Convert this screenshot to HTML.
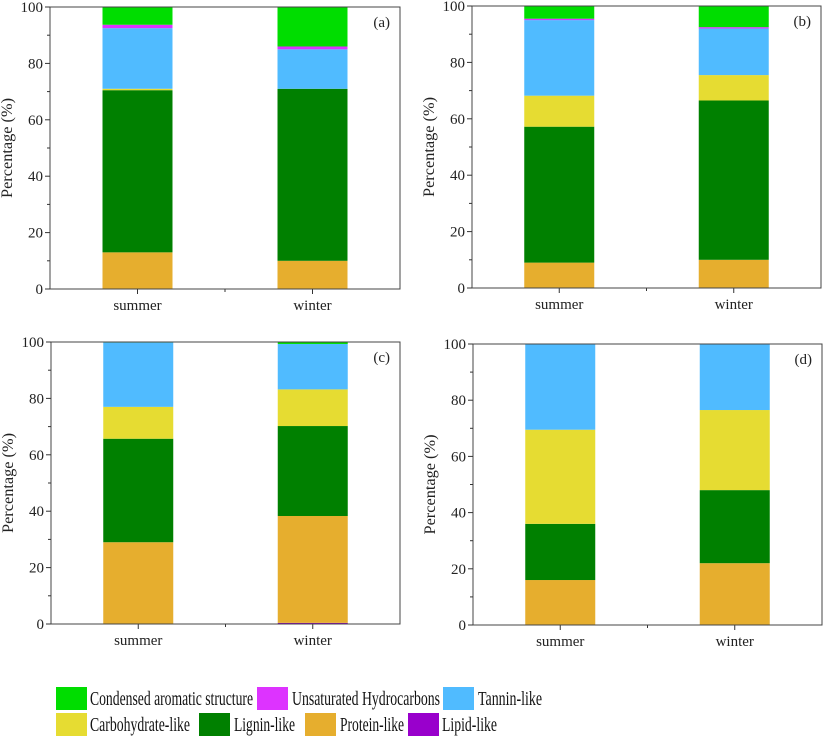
<!DOCTYPE html>
<html><head><meta charset="utf-8"><style>
html,body{margin:0;padding:0;background:#fff;}
svg{display:block;font-family:"Liberation Serif",serif;}
</style></head><body>
<svg id="chart" width="825" height="736" viewBox="0 0 825 736" xmlns="http://www.w3.org/2000/svg"></svg>
<script>
const categories = ["summer", "winter"];
const seriesNames = ["Lipid-like","Protein-like","Lignin-like","Carbohydrate-like","Tannin-like","Unsaturated Hydrocarbons","Condensed aromatic structure"];
const seriesColors = ["#9900cc","#e6ae2e","#008000","#e6dc32","#50bbff","#dd33ff","#00dd00"];
// values per panel: [summer, winter] for each series (bottom to top)
const panelA = [[0,0],[13,10],[57.5,61],[0.5,0],[21.5,14],[1.2,1],[6.3,14]];
const panelB = [[0,0],[9,10],[48.2,56.5],[11,9],[26.8,16.5],[0.5,0.5],[4.5,7.5]];
const panelC = [[0,0.4],[29,37.9],[36.7,31.9],[11.3,13],[22.8,16.1],[0,0],[0.2,0.7]];
const panelD = [[0,0],[16,22],[20,26],[33.5,28.5],[30.5,23.5],[0,0],[0,0]];
const panelLabels = ["(a)","(b)","(c)","(d)"];
const yTicks = [0,20,40,60,80,100];

const NS = "http://www.w3.org/2000/svg";
const svg = document.getElementById("chart");
function mk(tag, attrs, parent){const e=document.createElementNS(NS,tag);for(const k in attrs)e.setAttribute(k,attrs[k]);(parent||svg).appendChild(e);return e;}

const boxes = [
  {x0:50,x1:400,yt:7,yb:289},
  {x0:472,x1:821,yt:6,yb:288},
  {x0:51,x1:400,yt:342,yb:624},
  {x0:473,x1:822,yt:344,yb:625}
];
const panels = [panelA,panelB,panelC,panelD];

panels.forEach((data,pi)=>{
  const b = boxes[pi];
  const g = mk("g",{});
  
  
  const W=b.x1-b.x0, H=b.yb-b.yt;
  const yScale=v=>b.yb - v/100*H;
  const xCenter=i=>b.x0 + W*(0.25+0.5*i);
  const bw=70;
  categories.forEach((c,ci)=>{
    let acc=0;
    data.forEach((s,si)=>{
      const v=s[ci];
      if(v<=0) return;
      const r=mk("rect",{x:xCenter(ci)-bw/2,y:yScale(acc+v),width:bw,height:yScale(acc)-yScale(acc+v),fill:seriesColors[si]},g);
      
      
      acc+=v;
    });
    const t=mk("text",{x:xCenter(ci),y:b.yb+21,"text-anchor":"middle","font-size":"15",fill:"#222"},g);
    t.textContent=c;
    
    
    mk("line",{x1:xCenter(ci),x2:xCenter(ci),y1:b.yb,y2:b.yb+5,stroke:"#333","stroke-width":1},g);
  });
  mk("line",{x1:b.x0+W/2,x2:b.x0+W/2,y1:b.yb,y2:b.yb+3,stroke:"#333","stroke-width":1},g);
  const fr=mk("rect",{x:b.x0,y:b.yt,width:W,height:H,fill:"none",stroke:"#444","stroke-width":1},g);
  
  
  for(let v=0;v<=100;v+=10){
    const major=v%20===0;
    mk("line",{x1:b.x0-(major?5:3),x2:b.x0,y1:yScale(v),y2:yScale(v),stroke:"#333","stroke-width":1},g);
  }
  yTicks.forEach(v=>{
    const t=mk("text",{x:b.x0-7,y:yScale(v)+5,"text-anchor":"end","font-size":"15",fill:"#222"},g);
    t.textContent=v;
    
    
  });
  const yt=mk("text",{x:0,y:0,"text-anchor":"middle","font-size":"16",fill:"#222",textLength:"100",lengthAdjust:"spacingAndGlyphs",transform:`translate(${b.x0-38},${(b.yt+b.yb)/2}) rotate(-90)`},g);
  yt.textContent="Percentage (%)";
  
  
  const pl=mk("text",{x:b.x1-10,y:b.yt+20,"text-anchor":"end","font-size":"15",fill:"#222"},g);
  pl.textContent=panelLabels[pi];
  
  
});

// legend
const legendItems = [
  {n:6,x:56,y:687,tx:90,w:163},{n:5,x:257,y:687,tx:292,w:148},{n:4,x:443,y:687,tx:478,w:64},
  {n:3,x:56,y:713,tx:90,w:100},{n:2,x:199,y:713,tx:234,w:61},{n:1,x:305,y:713,tx:340,w:64},{n:0,x:408,y:713,tx:442,w:55}
];
const lg=mk("g",{});


legendItems.forEach(it=>{
  const r=mk("rect",{x:it.x,y:it.y,width:31,height:23,fill:seriesColors[it.n]},lg);
  
  
  const t=mk("text",{x:it.tx,y:it.y+18,"font-size":"20",fill:"#111",textLength:it.w,lengthAdjust:"spacingAndGlyphs"},lg);
  t.textContent=seriesNames[it.n];
  
  
});
</script>
</body></html>
